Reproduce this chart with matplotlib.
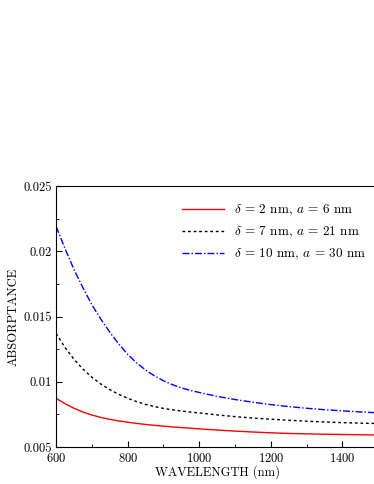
import matplotlib
matplotlib.use('Agg')
import matplotlib.pyplot as plt
from matplotlib.ticker import MultipleLocator, FuncFormatter

plt.rcParams['font.family'] = 'serif'
plt.rcParams['font.serif'] = ['cmr10']
plt.rcParams['mathtext.fontset'] = 'cm'
plt.rcParams['axes.formatter.use_mathtext'] = True
plt.rcParams['font.size'] = 9

# wavelength in nm
wavelength = [600, 625, 650, 675, 700, 725, 750, 775, 800, 825, 850, 875, 900, 925, 950, 975, 1000,
              1050, 1100, 1150, 1200, 1250, 1300, 1350, 1400, 1450, 1500]

# absorptance
abs_d2 = [0.00873, 0.00832, 0.00797, 0.00768, 0.00745, 0.00727, 0.00712, 0.00700, 0.00690,
          0.00681, 0.00673, 0.00666, 0.00660, 0.00654, 0.00649, 0.00644, 0.00639,
          0.00630, 0.00622, 0.00615, 0.00609, 0.00604, 0.00601, 0.00598, 0.00596, 0.00594, 0.00592]
abs_d7 = [0.01370, 0.01262, 0.01172, 0.01097, 0.01035, 0.00983, 0.00940, 0.00904, 0.00874,
          0.00848, 0.00827, 0.00810, 0.00796, 0.00785, 0.00776, 0.00768, 0.00761,
          0.00746, 0.00733, 0.00722, 0.00713, 0.00705, 0.00698, 0.00692, 0.00687, 0.00683, 0.00680]
abs_d10 = [0.02190, 0.02020, 0.01860, 0.01720, 0.01590, 0.01480, 0.01380, 0.01290, 0.01210,
           0.01145, 0.01090, 0.01045, 0.01008, 0.00978, 0.00953, 0.00934, 0.00918,
           0.00888, 0.00864, 0.00843, 0.00825, 0.00810, 0.00797, 0.00786, 0.00777, 0.00769, 0.00762]

labels = [r'$\delta$ = 2 nm, $a$ = 6 nm',
          r'$\delta$ = 7 nm, $a$ = 21 nm',
          r'$\delta$ = 10 nm, $a$ = 30 nm']

fig = plt.figure(figsize=(3.74, 4.84), dpi=100)
ax = fig.add_axes([0.150, 0.0764, 0.861, 0.5393])

ax.plot(wavelength, abs_d2, color='red', lw=1.0, label=labels[0])
ax.plot(wavelength, abs_d7, color='black', lw=1.0, ls=(0, (2, 2)), label=labels[1])
ax.plot(wavelength, abs_d10, color='blue', lw=1.0, ls=(0, (5, 1.5, 1, 1.5)), label=labels[2])

ax.set_xlim(600, 1500)
ax.set_ylim(0.005, 0.025)
ax.xaxis.set_major_locator(MultipleLocator(200))
ax.xaxis.set_minor_locator(MultipleLocator(100))
ax.yaxis.set_major_locator(MultipleLocator(0.005))
ax.yaxis.set_minor_locator(MultipleLocator(0.0025))
ax.yaxis.set_major_formatter(FuncFormatter(lambda v, p: '%g' % round(v, 4)))
ax.tick_params(which='both', direction='in', top=False, right=False)
ax.tick_params(which='major', length=4)
ax.tick_params(which='minor', length=2)
ax.tick_params(axis='x', pad=3.5)
ax.tick_params(axis='y', pad=3)

ax.set_xlabel('WAVELENGTH (nm)', labelpad=0)
ax.set_ylabel('ABSORPTANCE', labelpad=3)

ax.legend(loc='upper right', frameon=False, fontsize=9.5, handlelength=3.2, handletextpad=0.75,
          labelspacing=0.5, bbox_to_anchor=(1.0, 0.98))

fig.savefig('out.png', dpi=100)
